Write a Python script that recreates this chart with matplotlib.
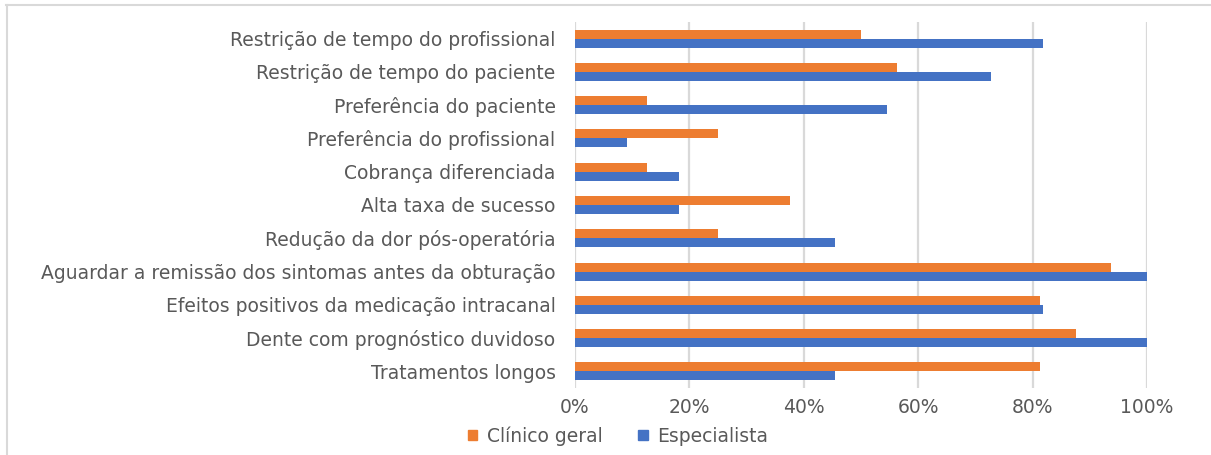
import matplotlib
matplotlib.use("Agg")
import matplotlib.pyplot as plt
from matplotlib.lines import Line2D
from matplotlib.ticker import PercentFormatter

categories = [
    "Restrição de tempo do profissional",
    "Restrição de tempo do paciente",
    "Preferência do paciente",
    "Preferência do profissional",
    "Cobrança diferenciada",
    "Alta taxa de sucesso",
    "Redução da dor pós-operatória",
    "Aguardar a remissão dos sintomas antes da obturação",
    "Efeitos positivos da medicação intracanal",
    "Dente com prognóstico duvidoso",
    "Tratamentos longos",
]
clinico_geral = [50.0, 56.25, 12.5, 25.0, 12.5, 37.5, 25.0, 93.75, 81.25, 87.5, 81.25]
especialista = [81.8, 72.7, 54.5, 9.1, 18.2, 18.2, 45.5, 100.0, 81.8, 100.0, 45.5]
series_names = ["Clínico geral", "Especialista"]
xticks = [0, 20, 40, 60, 80, 100]

ORANGE = "#ED7D31"
BLUE = "#4472C4"
TEXT = "#595959"
GRID = "#D9D9D9"

plt.rcParams['font.family'] = ['DejaVu Sans']

W, H = 1211, 455
fig = plt.figure(figsize=(W / 100, H / 100), dpi=100)
ax = fig.add_axes([575 / W, 1 - 388 / H, (1147 - 575) / W, (388 - 22) / H])

n = len(categories)
ys = list(range(n))
bh = 0.27
ax.barh([y - bh / 2 for y in ys], clinico_geral, height=bh, color=ORANGE, label=series_names[0], zorder=3)
ax.barh([y + bh / 2 for y in ys], especialista, height=bh, color=BLUE, label=series_names[1], zorder=3)

FS = 13.5
ax.set_ylim(n - 0.5, -0.5)
ax.set_xlim(0, 100)
ax.set_yticks(ys)
ax.set_yticklabels(categories, fontsize=FS, color=TEXT)
ax.set_xticks(xticks)
ax.xaxis.set_major_formatter(PercentFormatter(decimals=0))
ax.tick_params(axis='x', labelsize=FS, labelcolor=TEXT, length=0, pad=7)
ax.tick_params(axis='y', length=0, pad=14)
ax.grid(axis='x', color=GRID, linewidth=1.6, zorder=0)
for s in ax.spines.values():
    s.set_visible(False)

handles = [plt.Rectangle((0, 0), 1, 1, color=ORANGE), plt.Rectangle((0, 0), 1, 1, color=BLUE)]
leg = fig.legend(handles, series_names, loc='center left', bbox_to_anchor=(468 / W, 1 - 436 / H),
                 ncol=2, frameon=False, fontsize=FS, handlelength=0.5, handleheight=0.5,
                 handletextpad=0.5, columnspacing=1.9, labelcolor=TEXT, borderpad=0, borderaxespad=0)

# outer border (top and left)
fig.add_artist(Line2D([6 / W, 1], [1 - 5 / H, 1 - 5 / H], color=GRID, linewidth=1.5, transform=fig.transFigure))
fig.add_artist(Line2D([7 / W, 7 / W], [0, 1 - 5 / H], color=GRID, linewidth=1.5, transform=fig.transFigure))

fig.savefig("out.png", dpi=100)
